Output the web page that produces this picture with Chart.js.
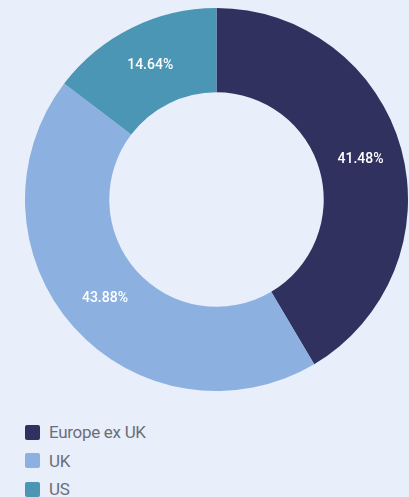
<!DOCTYPE html>
<html><head><meta charset="utf-8">
<script src="https://cdn.jsdelivr.net/npm/chart.js@4"></script>
<style>
html,body{margin:0;padding:0;background:#e8eefa;width:409px;height:497px;overflow:hidden;font-family:Roboto,"Noto Sans",sans-serif;}
#wrap{position:absolute;left:25px;top:8px;width:383px;height:383px;}
#legend{position:absolute;left:25px;top:418px;}
.item{display:flex;align-items:center;height:28.5px;color:#6b6e78;font-size:17px;letter-spacing:-0.3px;}
.box{width:15px;height:15px;border-radius:2px;margin-right:9px;}
</style></head>
<body>
<div id="wrap"><canvas id="c"></canvas></div>
<div id="legend"></div>
<script>
const categories = ["Europe ex UK", "UK", "US"];
const values = [41.48, 43.88, 14.64];
const colors = ["#31315f", "#8cb0df", "#4a96b4"];

const labelPlugin = {
  id: 'pctLabels',
  afterDatasetsDraw(chart) {
    const ctx = chart.ctx;
    const meta = chart.getDatasetMeta(0);
    ctx.save();
    ctx.fillStyle = '#ffffff';
    ctx.font = '500 14px Roboto, sans-serif';
    ctx.textAlign = 'center';
    ctx.textBaseline = 'middle';
    meta.data.forEach((arc, i) => {
      const p = arc.tooltipPosition();
      ctx.fillText(values[i].toFixed(2) + '%', p.x, p.y);
    });
    ctx.restore();
  }
};

const chart = new Chart(document.getElementById('c'), {
  type: 'doughnut',
  data: { labels: categories, datasets: [{ data: values, backgroundColor: colors, borderWidth: 0 }] },
  options: {
    responsive: true, maintainAspectRatio: false, animation: false,
    cutout: '56%',
    layout: { padding: 0 },
    plugins: { legend: { display: false }, tooltip: { enabled: false } }
  },
  plugins: [labelPlugin]
});

const lg = document.getElementById('legend');
categories.forEach((c, i) => {
  const d = document.createElement('div'); d.className = 'item';
  const b = document.createElement('span'); b.className = 'box'; b.style.background = colors[i];
  const t = document.createElement('span'); t.textContent = c;
  d.appendChild(b); d.appendChild(t); lg.appendChild(d);
});
</script>
</body></html>
